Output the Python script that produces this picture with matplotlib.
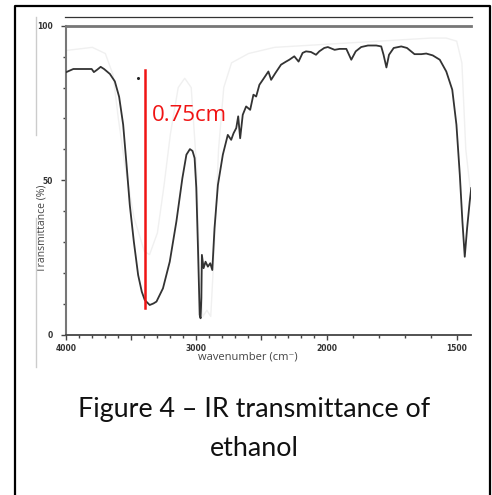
import matplotlib
matplotlib.use("Agg")
import matplotlib.pyplot as plt
import numpy as np
from matplotlib.lines import Line2D
from matplotlib.ticker import FixedLocator, MultipleLocator, FuncFormatter

# Ethanol IR spectrum: wavenumber (cm-1) and transmittance (%)
wavenumber = [4000, 3946, 3870, 3805, 3788, 3762, 3736, 3710, 3665, 3627,
              3594, 3563, 3537, 3512, 3481, 3448, 3420, 3397, 3359, 3330,
              3307, 3257, 3205, 3154, 3108, 3077, 3050, 3030, 3014, 3001,
              2988, 2975, 2968, 2962, 2958, 2945, 2930, 2912, 2894, 2878,
              2861, 2835, 2797, 2759, 2733, 2715, 2694, 2679, 2664, 2644,
              2618, 2587, 2562, 2541, 2516, 2490, 2447, 2426, 2393, 2350,
              2311, 2286, 2248, 2215, 2184, 2158, 2120, 2081, 2056, 2018,
              1995, 1969, 1950, 1924, 1905, 1888, 1867, 1841, 1809, 1790,
              1781, 1770, 1760, 1742, 1713, 1691, 1662, 1636, 1617, 1592,
              1565, 1540, 1517, 1501, 1488, 1478, 1469, 1460, 1450, 1444]
transmittance = [85.0, 86.0, 86.0, 86.0, 85.0, 85.8, 86.7, 86.0, 84.4, 82.0,
                 77.0, 68.0, 55.0, 42.0, 30.2, 19.4, 14.0, 11.3, 9.7, 10.2,
                 10.8, 15.1, 23.7, 36.7, 50.7, 58.3, 60.1, 59.5, 57.2, 47.6,
                 28.0, 6.5, 5.4, 12.0, 25.9, 21.6, 23.7, 22.1, 23.2, 21.0,
                 34.5, 48.5, 58.3, 64.7, 63.1, 65.2, 66.9, 70.7, 63.6, 71.2,
                 73.9, 72.8, 77.7, 77.1, 80.9, 82.5, 85.2, 82.5, 84.7, 87.4,
                 88.4, 89.0, 90.1, 88.4, 91.2, 91.7, 91.5, 90.6, 91.7, 92.8,
                 93.1, 92.2, 92.5, 92.5, 89.0, 91.7, 93.1, 93.6, 93.6, 93.3,
                 90.6, 86.5, 90.6, 92.8, 93.3, 92.8, 90.8, 90.8, 91.0, 90.4,
                 89.0, 85.2, 79.3, 68.0, 51.8, 36.7, 25.3, 34.5, 43.1, 47.5]

# faint reference trace behind the main spectrum
ref_wavenumber = [4000, 3800, 3700, 3640, 3600, 3550, 3480, 3400, 3360, 3300,
                  3250, 3200, 3140, 3090, 3040, 3000, 2975, 2950, 2920, 2890,
                  2860, 2830, 2790, 2730, 2600, 2400, 2000, 1600, 1540, 1500,
                  1480, 1465, 1445]
ref_transmittance = [92, 93, 91, 84, 70, 55, 38, 27, 26, 33,
                     48, 65, 80, 83, 80, 55, 20, 6, 8, 6,
                     30, 60, 80, 88, 91, 93, 94, 96, 96, 95,
                     88, 60, 45]

# measured band depth marker
marker_x = 3397
marker_y = [8.8, 85.8]
marker_label = "0.75cm"

x_labels = {4000: "4000", 3000: "3000", 2000: "2000", 1500: "1500"}
y_ticks = [0, 50, 100]


# wavenumber axis is expanded 2x below 2000 cm-1
def fwd(w):
    w = np.asarray(w, dtype=float)
    return np.where(w >= 2000, w, 2 * w - 2000)


def inv(u):
    u = np.asarray(u, dtype=float)
    return np.where(u >= 2000, u, (u + 2000) / 2)


W, H = 492, 495
fig = plt.figure(figsize=(W / 100, H / 100), dpi=100)
ax = fig.add_axes([66.3 / W, 1 - 335 / H, (471 - 66.3) / W, (335 - 25.7) / H])

ax.set_xscale("function", functions=(fwd, inv))
ax.plot(ref_wavenumber, ref_transmittance, color="#f0f0f0", lw=1.0, zorder=1)
ax.plot(wavenumber, transmittance, color="#333333", lw=1.3, zorder=3)

ax.plot([marker_x, marker_x], marker_y, color="#f01414", lw=1.8, zorder=4)
ax.text(3340, 71, marker_label, color="#f01414", fontsize=16,
        family="Open Sans", va="center", ha="left", zorder=5)
ax.plot([3450], [83], marker="o", ms=1.2, color="#222222", zorder=5)

ax.set_xlim(4000, 1445)
ax.set_ylim(0, 100)

ax.xaxis.set_major_locator(FixedLocator([4000, 3500, 3000, 2500, 2000, 1500]))
ax.xaxis.set_minor_locator(FixedLocator(list(range(1500, 4001, 100))))
ax.xaxis.set_major_formatter(FuncFormatter(lambda v, p: x_labels.get(int(round(v)), "")))
ax.yaxis.set_major_locator(FixedLocator(y_ticks))
ax.yaxis.set_minor_locator(MultipleLocator(10))

ax.tick_params(axis="both", which="major", direction="out", length=3.5,
               width=1.0, color="#444444", labelsize=5.5, labelcolor="#333333")
ax.tick_params(axis="both", which="minor", direction="out", length=2,
               width=1.0, color="#444444")
ax.tick_params(axis="x", which="major", pad=3)
ax.tick_params(axis="y", which="major", pad=6)
for lab in ax.get_xticklabels() + ax.get_yticklabels():
    lab.set_fontweight("bold")

ax.spines["right"].set_visible(False)
ax.spines["left"].set_color("#777777")
ax.spines["left"].set_linewidth(1.5)
ax.spines["top"].set_color("#777777")
ax.spines["top"].set_linewidth(2.0)
ax.spines["bottom"].set_color("#444444")
ax.spines["bottom"].set_linewidth(1.3)

ax.set_xlabel("wavenumber (cm\u207b)", family=["Open Sans", "DejaVu Sans"],
              fontsize=8, color="#444444")
ax.set_ylabel("Transmittance (%)", family=["Open Sans", "DejaVu Sans"],
              fontsize=7.5, color="#444444")
ax.xaxis.set_label_coords(0.449, -0.052)
ax.yaxis.set_label_coords(-0.047, 0.345)

# thin rule above the plot frame
fig.add_artist(Line2D([65 / W, 471.5 / W], [1 - 17 / H, 1 - 17 / H],
                      color="#333333", lw=0.9, transform=fig.transFigure))
# pale vertical guides left of the axis
for y0, y1 in [(17, 135), (218, 367)]:
    fig.add_artist(Line2D([36 / W, 36 / W], [1 - y0 / H, 1 - y1 / H],
                          color="#cccccc", lw=1.0, transform=fig.transFigure))

# border around the figure box
bx0, bx1, by0 = 15 / W, 489.5 / W, 1 - 6 / H
fig.add_artist(Line2D([bx0, bx0, bx1, bx1], [-0.05, by0, by0, -0.05],
                      color="black", lw=1.6, transform=fig.transFigure))

fig.text(254 / W, 1 - 410 / H, "Figure 4 \u2013 IR transmittance of",
         family="Lato", fontsize=19.4, ha="center", va="center", color="#111111")
fig.text(254 / W, 1 - 448 / H, "ethanol",
         family="Lato", fontsize=19.4, ha="center", va="center", color="#111111")

fig.savefig("out.png", dpi=100)
